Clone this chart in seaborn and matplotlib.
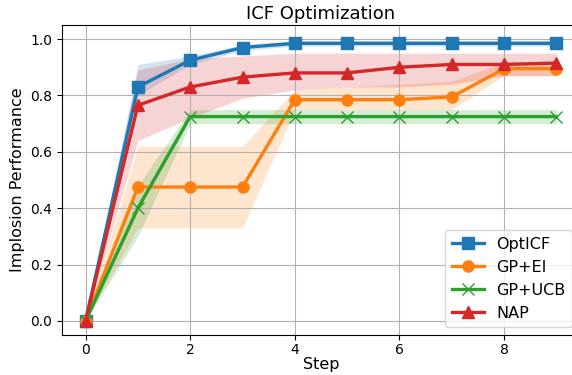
import matplotlib
matplotlib.use("Agg")
import matplotlib.pyplot as plt
import seaborn as sns
import pandas as pd

steps = list(range(10))

opticf_mean = [0.0, 0.83, 0.925, 0.97, 0.985, 0.985, 0.985, 0.985, 0.985, 0.985]
opticf_low  = [0.0, 0.80, 0.91, 0.96, 0.975, 0.975, 0.975, 0.975, 0.975, 0.975]
opticf_high = [0.0, 0.91, 0.94, 0.98, 0.995, 0.995, 0.995, 0.995, 0.995, 0.995]

gpei_mean = [0.0, 0.475, 0.475, 0.475, 0.785, 0.785, 0.785, 0.795, 0.895, 0.895]
gpei_low  = [0.0, 0.33, 0.33, 0.33, 0.75, 0.75, 0.75, 0.75, 0.87, 0.87]
gpei_high = [0.0, 0.62, 0.62, 0.62, 0.82, 0.83, 0.84, 0.85, 0.92, 0.92]

gpucb_mean = [0.0, 0.40, 0.725, 0.725, 0.725, 0.725, 0.725, 0.725, 0.725, 0.725]
gpucb_low  = [0.0, 0.30, 0.70, 0.70, 0.70, 0.70, 0.70, 0.70, 0.70, 0.70]
gpucb_high = [0.0, 0.48, 0.75, 0.75, 0.75, 0.75, 0.75, 0.75, 0.75, 0.75]

nap_mean = [0.0, 0.765, 0.83, 0.865, 0.88, 0.88, 0.90, 0.91, 0.91, 0.915]
nap_low  = [0.0, 0.64, 0.72, 0.79, 0.82, 0.83, 0.83, 0.84, 0.87, 0.87]
nap_high = [0.0, 0.89, 0.93, 0.94, 0.95, 0.95, 0.95, 0.95, 0.95, 0.95]

methods = ["OptICF", "GP+EI", "GP+UCB", "NAP"]
means = [opticf_mean, gpei_mean, gpucb_mean, nap_mean]
lows = [opticf_low, gpei_low, gpucb_low, nap_low]
highs = [opticf_high, gpei_high, gpucb_high, nap_high]
colors = ["#1f77b4", "#ff7f0e", "#2ca02c", "#d62728"]
markers = ["s", "o", "x", "^"]

fig = plt.figure(figsize=(5.72, 3.75), dpi=100)
ax = fig.add_axes([62 / 572, 1 - 335 / 375, (580 - 62) / 572, (335 - 25) / 375])
for m, mu, lo, hi, c, mk in zip(methods, means, lows, highs, colors, markers):
    ax.fill_between(steps, lo, hi, color=c, alpha=0.2, linewidth=0)
    df = pd.DataFrame({"Step": steps, "Performance": mu})
    sns.lineplot(data=df, x="Step", y="Performance", color=c, marker=mk,
                 linewidth=2.4, markersize=8, markeredgecolor=c,
                 markeredgewidth=1, label=m, ax=ax, errorbar=None)

ax.set_title("ICF Optimization", fontsize=13, pad=4)
ax.set_xlabel("Step", fontsize=11.5, labelpad=0)
ax.set_ylabel("Implosion Performance", fontsize=11.5)
ax.set_xticks([0, 2, 4, 6, 8])
ax.set_yticks([0.0, 0.2, 0.4, 0.6, 0.8, 1.0])
ax.tick_params(labelsize=10)
ax.tick_params(axis="x", pad=2.5)
ax.grid(True, color="#b0b0b0", linewidth=0.8)
ax.set_xlim(-0.45, 9.45)
ax.set_ylim(-0.05, 1.05)
ax.legend(loc="lower right", fontsize=11.5)
fig.savefig("out.png", dpi=100)
